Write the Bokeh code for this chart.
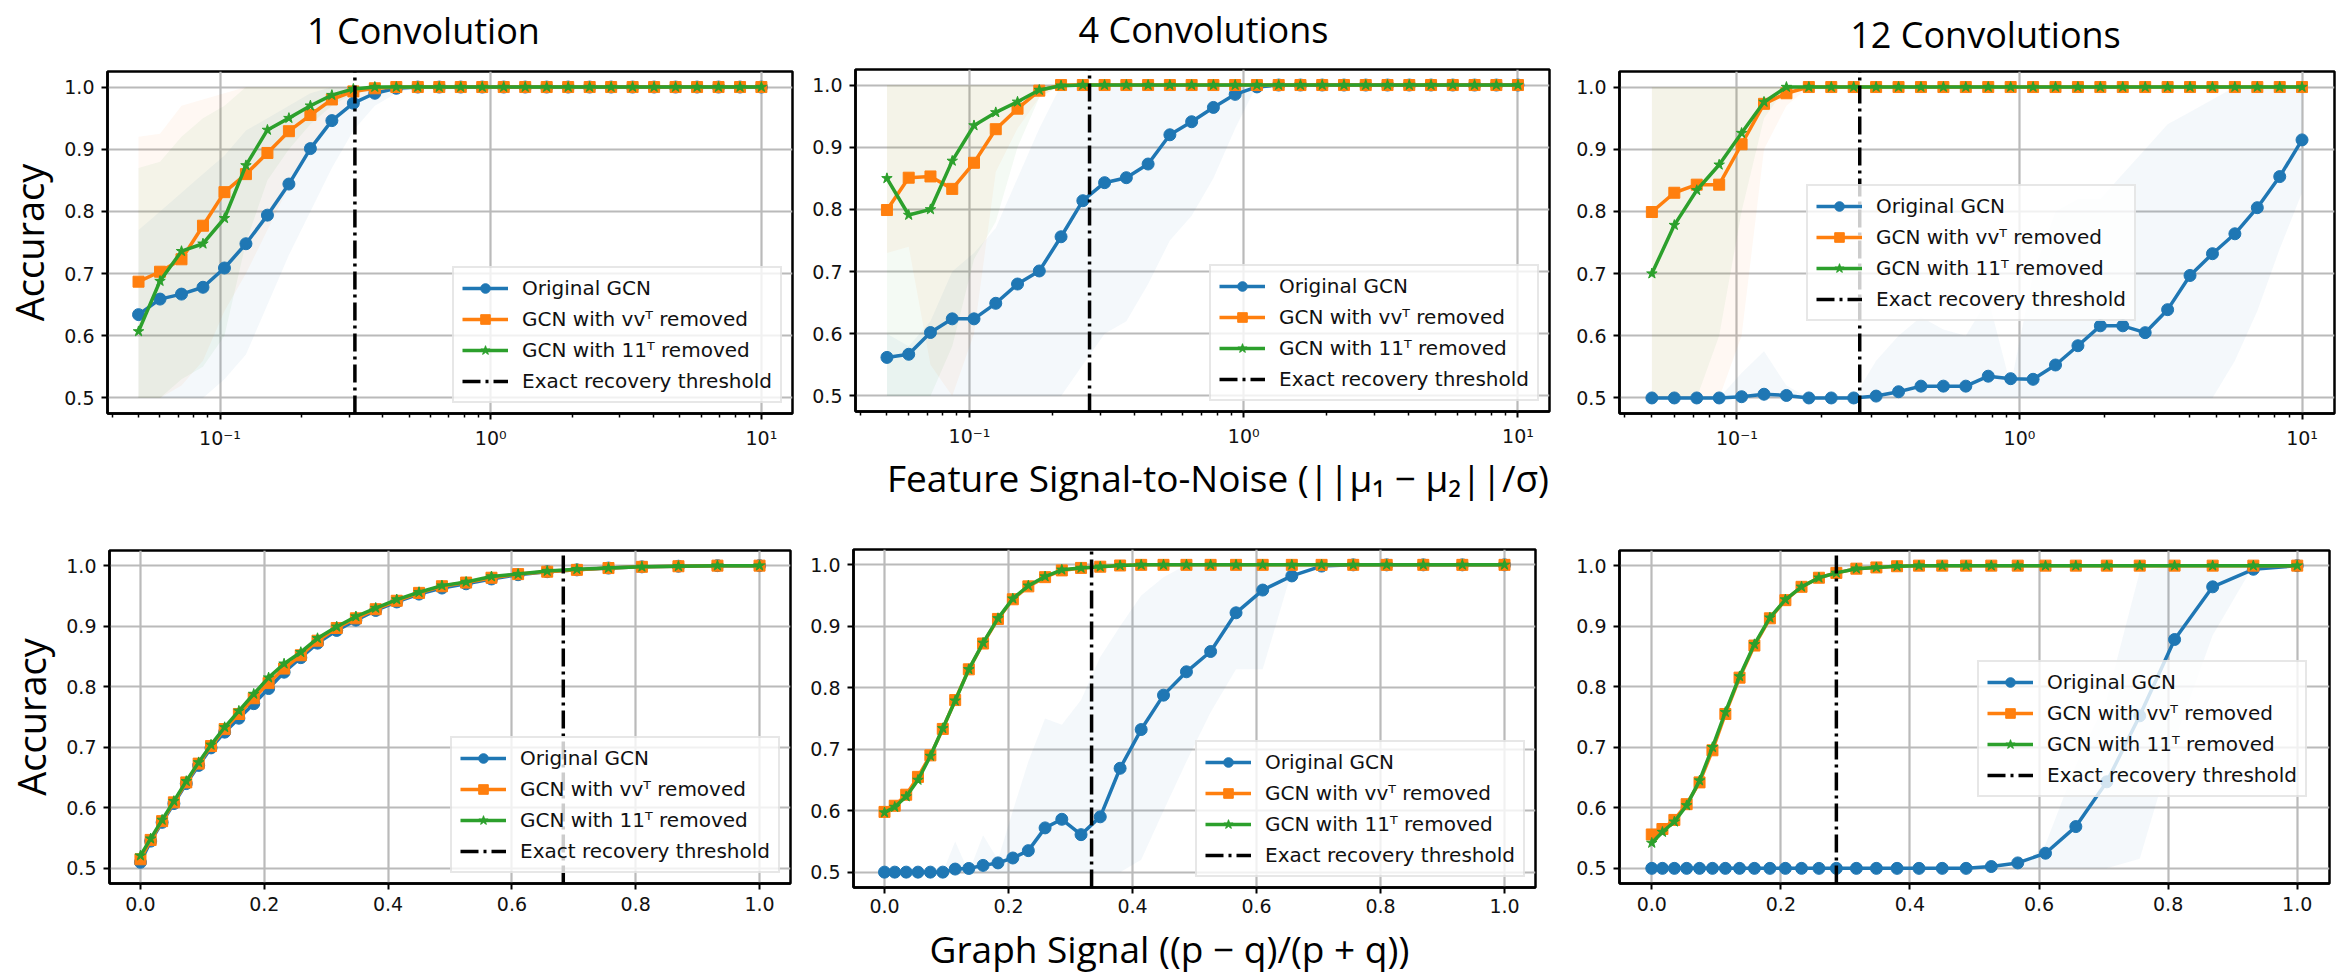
import math
from bokeh.plotting import figure
from bokeh.models import (Range1d, FixedTicker, NumeralTickFormatter, Legend,
                          LegendItem, ColumnDataSource)
from bokeh.layouts import row, column
from bokeh.embed import file_html
from bokeh.resources import INLINE
from bokeh.core.properties import value

# ---------------- data ----------------
x_snr = [0.05, 0.06003, 0.07206, 0.08651, 0.10386, 0.12468, 0.14968, 0.17969, 0.21572, 0.25897,
         0.31089, 0.37322, 0.44805, 0.53788, 0.64573, 0.77520, 0.93062, 1.11721, 1.34121, 1.61012,
         1.93295, 2.32050, 2.78576, 3.34431, 4.01484, 4.81982, 5.78619, 6.94632, 8.33906, 10.0]
x_graph = [0.0, 0.0165, 0.035, 0.054, 0.074, 0.094, 0.114, 0.136, 0.159, 0.183,
           0.207, 0.232, 0.259, 0.286, 0.317, 0.348, 0.38, 0.414, 0.45, 0.487,
           0.526, 0.567, 0.61, 0.657, 0.705, 0.756, 0.81, 0.869, 0.932, 1.0]

series_names = ["Original GCN", "GCN with vvᵀ removed", "GCN with 11ᵀ removed", "Exact recovery threshold"]
col_titles = ["1 Convolution", "4 Convolutions", "12 Convolutions"]
xlabel_feature = "Feature Signal-to-Noise (||μ₁ − μ₂||/σ)"
xlabel_graph = "Graph Signal ((p − q)/(p + q))"
ylabel = "Accuracy"
y_ticks = [0.5, 0.6, 0.7, 0.8, 0.9, 1.0]
x_log_ticks = [0.1, 1.0, 10.0]
x_log_labels = ["10⁻¹", "10⁰", "10¹"]
x_lin_ticks = [0.0, 0.2, 0.4, 0.6, 0.8, 1.0]

# top-left : 1 convolution, feature SNR
tl_blue = [0.634, 0.659, 0.667, 0.678, 0.709, 0.748, 0.794, 0.844, 0.901, 0.946, 0.974, 0.99, 0.998, 1.0, 1.0,
           1.0, 1.0, 1.0, 1.0, 1.0, 1.0, 1.0, 1.0, 1.0, 1.0, 1.0, 1.0, 1.0, 1.0, 1.0]
tl_orange = [0.687, 0.703, 0.723, 0.777, 0.831, 0.86, 0.894, 0.929, 0.955, 0.98, 0.993, 0.998, 1.0, 1.0, 1.0,
             1.0, 1.0, 1.0, 1.0, 1.0, 1.0, 1.0, 1.0, 1.0, 1.0, 1.0, 1.0, 1.0, 1.0, 1.0]
tl_green = [0.607, 0.688, 0.736, 0.748, 0.789, 0.874, 0.931, 0.95, 0.97, 0.987, 0.997, 1.0, 1.0, 1.0, 1.0,
            1.0, 1.0, 1.0, 1.0, 1.0, 1.0, 1.0, 1.0, 1.0, 1.0, 1.0, 1.0, 1.0, 1.0, 1.0]
tl_thr = 0.315
tl_blue_lo = [0.5, 0.5, 0.5, 0.5, 0.53, 0.57, 0.65, 0.73, 0.8, 0.87, 0.93, 0.97, 0.99, 1.0]
tl_blue_hi = [0.77, 0.8, 0.83, 0.86, 0.89, 0.93, 0.95, 0.97, 0.99, 1.0, 1.0, 1.0, 1.0, 1.0]
tl_orange_lo = [0.5, 0.5, 0.52, 0.56, 0.64, 0.7, 0.77, 0.84, 0.9, 0.95, 0.98, 0.99, 1.0, 1.0]
tl_orange_hi = [0.92, 0.925, 0.97, 0.98, 0.99, 1.0, 1.0, 1.0, 1.0, 1.0, 1.0, 1.0, 1.0, 1.0]
tl_green_lo = [0.5, 0.5, 0.53, 0.55, 0.6, 0.75, 0.85, 0.9, 0.94, 0.97, 0.99, 1.0, 1.0, 1.0]
tl_green_hi = [0.87, 0.88, 0.92, 0.95, 0.97, 1.0, 1.0, 1.0, 1.0, 1.0, 1.0, 1.0, 1.0, 1.0]

# top-middle : 4 convolutions
tm_blue = [0.562, 0.567, 0.602, 0.624, 0.624, 0.649, 0.68, 0.701, 0.756, 0.814, 0.843, 0.851, 0.873, 0.92, 0.941,
           0.964, 0.985, 0.997, 1.0, 1.0, 1.0, 1.0, 1.0, 1.0, 1.0, 1.0, 1.0, 1.0, 1.0, 1.0]
tm_orange = [0.799, 0.851, 0.853, 0.833, 0.875, 0.929, 0.962, 0.991, 1.0, 1.0, 1.0, 1.0, 1.0, 1.0, 1.0,
             1.0, 1.0, 1.0, 1.0, 1.0, 1.0, 1.0, 1.0, 1.0, 1.0, 1.0, 1.0, 1.0, 1.0, 1.0]
tm_green = [0.85, 0.791, 0.80, 0.878, 0.935, 0.956, 0.973, 0.992, 0.999, 1.0, 1.0, 1.0, 1.0, 1.0, 1.0,
            1.0, 1.0, 1.0, 1.0, 1.0, 1.0, 1.0, 1.0, 1.0, 1.0, 1.0, 1.0, 1.0, 1.0, 1.0]
tm_thr = 0.274
tm_blue_lo = [0.5, 0.5, 0.5, 0.5, 0.5, 0.5, 0.5, 0.5, 0.5, 0.55, 0.6, 0.62, 0.68, 0.75, 0.79, 0.85, 0.93, 1.0, 1.0]
tm_blue_hi = [0.6, 0.58, 0.62, 0.7, 0.73, 0.77, 0.85, 0.93, 1.0, 1.0, 1.0, 1.0, 1.0, 1.0, 1.0, 1.0, 1.0, 1.0, 1.0]
tm_orange_lo = [0.73, 0.74, 0.55, 0.5, 0.6, 0.86, 0.93, 0.98, 1.0]
tm_orange_hi = [1.0, 1.0, 1.0, 1.0, 1.0, 1.0, 1.0, 1.0, 1.0]
tm_green_lo = [0.5, 0.5, 0.5, 0.58, 0.72, 0.78, 0.9, 0.98, 1.0]
tm_green_hi = [1.0, 1.0, 1.0, 1.0, 1.0, 1.0, 1.0, 1.0, 1.0]

# top-right : 12 convolutions
tr_blue = [0.5, 0.5, 0.5, 0.5, 0.502, 0.506, 0.504, 0.5, 0.5, 0.5, 0.503, 0.51, 0.519, 0.519, 0.519,
           0.535, 0.531, 0.53, 0.553, 0.584, 0.616, 0.616, 0.605, 0.642, 0.697, 0.732, 0.764, 0.806, 0.856, 0.915]
tr_orange = [0.799, 0.83, 0.843, 0.843, 0.908, 0.973, 0.99, 1.0, 1.0, 1.0, 1.0, 1.0, 1.0, 1.0, 1.0,
             1.0, 1.0, 1.0, 1.0, 1.0, 1.0, 1.0, 1.0, 1.0, 1.0, 1.0, 1.0, 1.0, 1.0, 1.0]
tr_green = [0.7, 0.778, 0.834, 0.875, 0.926, 0.976, 1.0, 1.0, 1.0, 1.0, 1.0, 1.0, 1.0, 1.0, 1.0,
            1.0, 1.0, 1.0, 1.0, 1.0, 1.0, 1.0, 1.0, 1.0, 1.0, 1.0, 1.0, 1.0, 1.0, 1.0]
tr_thr = 0.272
tr_blue_lo = [0.5, 0.5, 0.5, 0.5, 0.5, 0.5, 0.5, 0.5, 0.5, 0.5, 0.5, 0.5, 0.5, 0.5, 0.5,
              0.5, 0.5, 0.5, 0.5, 0.5, 0.5, 0.5, 0.5, 0.5, 0.5, 0.5, 0.56, 0.64, 0.74, 0.83]
tr_blue_hi = [0.5, 0.5, 0.5, 0.5, 0.54, 0.575, 0.52, 0.5, 0.5, 0.5, 0.56, 0.6, 0.63, 0.61, 0.6,
              0.66, 0.52, 0.7, 0.8, 0.82, 0.82, 0.86, 0.9, 0.94, 0.96, 0.98, 1.0, 1.0, 1.0, 1.0]
tr_orange_lo = [0.5, 0.5, 0.5, 0.5, 0.6, 0.9, 0.97, 1.0]
tr_orange_hi = [1.0, 1.0, 1.0, 1.0, 1.0, 1.0, 1.0, 1.0]
tr_green_lo = [0.5, 0.5, 0.5, 0.6, 0.8, 0.95, 1.0, 1.0]
tr_green_hi = [1.0, 1.0, 1.0, 1.0, 1.0, 1.0, 1.0, 1.0]

# bottom-left : 1 convolution, graph signal
bl_blue = [0.51, 0.545, 0.576, 0.607, 0.64, 0.67, 0.699, 0.725, 0.748, 0.772, 0.797, 0.824, 0.848, 0.872, 0.893,
           0.91, 0.926, 0.94, 0.953, 0.963, 0.97, 0.978, 0.985, 0.99, 0.993, 0.996, 0.998, 0.999, 1.0, 1.0]
bl_orange = [0.515, 0.547, 0.578, 0.609, 0.642, 0.673, 0.702, 0.73, 0.755, 0.781, 0.806, 0.83, 0.852, 0.876, 0.897,
             0.913, 0.928, 0.942, 0.955, 0.966, 0.972, 0.98, 0.986, 0.99, 0.993, 0.996, 0.998, 0.999, 1.0, 1.0]
bl_green = [0.521, 0.549, 0.58, 0.611, 0.644, 0.675, 0.704, 0.733, 0.76, 0.788, 0.815, 0.838, 0.857, 0.88, 0.899,
            0.916, 0.93, 0.944, 0.956, 0.967, 0.973, 0.982, 0.986, 0.991, 0.994, 0.996, 0.998, 0.999, 1.0, 1.0]
bl_thr = 0.683

# bottom-middle : 4 convolutions
bm_blue = [0.5, 0.5, 0.5, 0.5, 0.5, 0.5, 0.505, 0.506, 0.511, 0.515, 0.523, 0.535, 0.572, 0.586, 0.561,
           0.59, 0.669, 0.732, 0.788, 0.826, 0.859, 0.922, 0.959, 0.982, 0.998, 1.0, 1.0, 1.0, 1.0, 1.0]
bm_orange = [0.598, 0.608, 0.626, 0.655, 0.69, 0.733, 0.78, 0.83, 0.872, 0.912, 0.944, 0.965, 0.98, 0.991, 0.995,
             0.997, 0.999, 1.0, 1.0, 1.0, 1.0, 1.0, 1.0, 1.0, 1.0, 1.0, 1.0, 1.0, 1.0, 1.0]
bm_green = [0.597, 0.606, 0.623, 0.65, 0.689, 0.734, 0.779, 0.83, 0.873, 0.913, 0.945, 0.966, 0.981, 0.992, 0.995,
            0.997, 0.999, 1.0, 1.0, 1.0, 1.0, 1.0, 1.0, 1.0, 1.0, 1.0, 1.0, 1.0, 1.0, 1.0]
bm_thr = 0.334
bm_blue_lo = [0.5, 0.5, 0.5, 0.5, 0.5, 0.5, 0.5, 0.5, 0.5, 0.5, 0.5, 0.5, 0.5, 0.5, 0.5,
              0.5, 0.5, 0.52, 0.6, 0.68, 0.76, 0.83, 0.83, 0.99, 1.0, 1.0, 1.0, 1.0, 1.0, 1.0]
bm_blue_hi = [0.5, 0.5, 0.5, 0.5, 0.5, 0.5, 0.55, 0.5, 0.56, 0.52, 0.6, 0.68, 0.75, 0.74, 0.78,
              0.85, 0.9, 0.95, 0.98, 1.0, 1.0, 1.0, 1.0, 1.0, 1.0, 1.0, 1.0, 1.0, 1.0, 1.0]

# bottom-right : 12 convolutions
br_blue = [0.5, 0.5, 0.5, 0.5, 0.5, 0.5, 0.5, 0.5, 0.5, 0.5, 0.5, 0.5, 0.5, 0.5, 0.5,
           0.5, 0.5, 0.5, 0.5, 0.5, 0.503, 0.509, 0.525, 0.569, 0.643, 0.752, 0.878, 0.965, 0.994, 1.0]
br_orange = [0.556, 0.565, 0.58, 0.606, 0.642, 0.695, 0.755, 0.815, 0.868, 0.913, 0.943, 0.965, 0.98, 0.988, 0.995,
             0.997, 0.999, 1.0, 1.0, 1.0, 1.0, 1.0, 1.0, 1.0, 1.0, 1.0, 1.0, 1.0, 1.0, 1.0]
br_green = [0.542, 0.56, 0.577, 0.604, 0.645, 0.70, 0.758, 0.817, 0.87, 0.914, 0.944, 0.965, 0.98, 0.988, 0.995,
            0.997, 0.999, 1.0, 1.0, 1.0, 1.0, 1.0, 1.0, 1.0, 1.0, 1.0, 1.0, 1.0, 1.0, 1.0]
br_thr = 0.286
br_blue_lo = [0.5, 0.5, 0.5, 0.5, 0.5, 0.5, 0.5, 0.5, 0.5, 0.5, 0.5, 0.5, 0.5, 0.5, 0.5,
              0.5, 0.5, 0.5, 0.5, 0.5, 0.5, 0.5, 0.5, 0.5, 0.5, 0.516, 0.71, 0.885, 1.0, 1.0]
br_blue_hi = [0.5, 0.5, 0.5, 0.5, 0.5, 0.5, 0.5, 0.5, 0.5, 0.5, 0.5, 0.5, 0.5, 0.5, 0.5,
              0.5, 0.5, 0.5, 0.5, 0.5, 0.5, 0.5, 0.54, 0.67, 0.78, 0.99, 1.0, 1.0, 1.0, 1.0]

# ---------------- style ----------------
BLUE, ORANGE, GREEN = "#1f77b4", "#ff7f0e", "#2ca02c"
Y0, Y1 = 0.475, 1.025
LOGX = (0.0384, 13.03)
LINX = (-0.05, 1.05)
MINOR_LOG = [0.04, 0.05, 0.06, 0.07, 0.08, 0.09, 0.2, 0.3, 0.4, 0.5, 0.6, 0.7, 0.8, 0.9,
             2, 3, 4, 5, 6, 7, 8, 9]
DASHDOT = "18 5 3 5"


def panel(xs, blue, orange, green, thr, bands, log, geo, legend_loc, show_ylabel=False, xstandoff=7):
    w, h, L, R, T, B = geo
    xr = LOGX if log else LINX
    p = figure(width=w, height=h, x_axis_type="log" if log else "linear",
               x_range=Range1d(*xr), y_range=Range1d(Y0, Y1),
               output_backend="svg", toolbar_location=None,
               min_border_left=L, min_border_right=R, min_border_top=T, min_border_bottom=B)
    p.background_fill_color = "white"
    p.border_fill_color = "white"
    p.outline_line_color = "black"
    p.outline_line_width = 2.5
    p.outline_line_alpha = 1.0

    if log:
        xt = FixedTicker(ticks=x_log_ticks, minor_ticks=MINOR_LOG)
        p.xaxis.ticker = xt
        p.xaxis.major_label_overrides = {t: s for t, s in zip(x_log_ticks, x_log_labels)}
    else:
        xt = FixedTicker(ticks=x_lin_ticks)
        p.xaxis.ticker = xt
        p.xaxis.formatter = NumeralTickFormatter(format="0.0")
    yt = FixedTicker(ticks=y_ticks)
    p.yaxis.ticker = yt
    p.yaxis.formatter = NumeralTickFormatter(format="0.0")
    p.xgrid.ticker = xt
    p.ygrid.ticker = yt
    for g in (p.xgrid, p.ygrid):
        g.grid_line_color = "#bababa"
        g.grid_line_width = 2.2
    for ax in (p.xaxis, p.yaxis):
        ax.axis_line_color = "black"
        ax.axis_line_width = 2.5
        ax.major_tick_out = 6
        ax.major_tick_in = 0
        ax.major_tick_line_width = 2
        ax.minor_tick_out = 4
        ax.minor_tick_in = 0
        ax.minor_tick_line_width = 1.5
        ax.major_label_text_font = "DejaVu Sans"
        ax.major_label_text_font_size = "19px"
        ax.major_label_text_color = "#111111"
        ax.major_label_standoff = 7
    p.xaxis.major_label_standoff = xstandoff
    if show_ylabel:
        p.yaxis.axis_label = ylabel
        p.yaxis.axis_label_text_font = "Open Sans"
        p.yaxis.axis_label_text_font_size = "38px"
        p.yaxis.axis_label_text_font_style = "normal"
        p.yaxis.axis_label_text_color = "black"
        p.yaxis.axis_label_standoff = 6

    for bx, lo, hi, c in bands:
        p.varea(x=bx, y1=lo, y2=hi, fill_color=c, fill_alpha=0.05)

    items = []
    specs = [(blue, BLUE, "circle", 12), (orange, ORANGE, "square", 11), (green, GREEN, "star", 11)]
    for (ys, c, mk, sz), name in zip(specs, series_names[:3]):
        src = ColumnDataSource(dict(x=xs, y=ys))
        ln = p.line("x", "y", source=src, line_color=c, line_width=3.5)
        sc = p.scatter("x", "y", source=src, marker=mk, size=sz, fill_color=c, line_color=c)
        items.append(LegendItem(label=name, renderers=[ln, sc]))

    # vertical threshold line spanning the full y range
    thr_line = p.line(x=[thr, thr], y=[Y0, Y1], line_color="black", line_width=3.5,
                      line_dash=DASHDOT)
    items.append(LegendItem(label=series_names[3], renderers=[thr_line]))

    leg = Legend(items=items, location=legend_loc)
    leg.label_text_font = "DejaVu Sans"
    leg.label_text_font_size = "20px"
    leg.label_text_color = "#111111"
    leg.glyph_width = 46
    leg.glyph_height = 24
    leg.label_height = 24
    leg.label_standoff = 14
    leg.spacing = 7
    leg.padding = 8
    leg.margin = 10
    leg.border_line_color = "#d0d0d0"
    leg.border_line_width = 2
    leg.background_fill_alpha = 0.8
    p.add_layout(leg)
    return p


def text_strip(x0, x1, y0, y1, xs, ys, texts, size):
    """A bare figure whose frame covers the strip; coordinates are page pixels."""
    f = figure(width=x1 - x0, height=y1 - y0, x_range=Range1d(x0, x1), y_range=Range1d(y1, y0),
               output_backend="svg", toolbar_location=None, min_border=0,
               x_axis_location=None, y_axis_location=None)
    f.outline_line_color = None
    f.grid.visible = False
    f.background_fill_color = "white"
    f.border_fill_color = "white"
    f.text(x=xs, y=ys, text=texts, text_align="center", text_baseline="alphabetic",
           text_font=value("Open Sans"), text_font_size=value(size), text_color="black")
    return f


HEAD = 60
header = text_strip(0, 2348, 0, HEAD, [423, 1203, 1985], [30, 29, 34], col_titles, "36px")
band = text_strip(804, 1566, 449, 520, [1202], [477], [xlabel_feature], "37px")
footer = text_strip(804, 1566, 921, 973, [1157], [948], [xlabel_graph], "37px")

# geometry: width, height, borderL, borderR, borderT, borderB
tl = panel(x_snr, tl_blue, tl_orange, tl_green, tl_thr,
           [(x_snr[:14], tl_blue_lo, tl_blue_hi, BLUE), (x_snr[:14], tl_orange_lo, tl_orange_hi, ORANGE),
            (x_snr[:14], tl_green_lo, tl_green_hi, GREEN)],
           True, (804, 460, 103, 12, 11, 107), "bottom_right", show_ylabel=True)
tm = panel(x_snr, tm_blue, tm_orange, tm_green, tm_thr,
           [(x_snr[:19], tm_blue_lo, tm_blue_hi, BLUE), (x_snr[:9], tm_orange_lo, tm_orange_hi, ORANGE),
            (x_snr[:9], tm_green_lo, tm_green_hi, GREEN)],
           True, (762, 389, 51, 17, 9, 36), "bottom_right")
tr = panel(x_snr, tr_blue, tr_orange, tr_green, tr_thr,
           [(x_snr, tr_blue_lo, tr_blue_hi, BLUE), (x_snr[:8], tr_orange_lo, tr_orange_hi, ORANGE),
            (x_snr[:8], tr_green_lo, tr_green_hi, GREEN)],
           True, (782, 460, 53, 14, 10, 95), (187, 92))
bl = panel(x_graph, bl_blue, bl_orange, bl_green, bl_thr, [],
           False, (804, 453, 109, 14, 24, 90), "bottom_right", show_ylabel=True)
bm = panel(x_graph, bm_blue, bm_orange, bm_green, bm_thr,
           [(x_graph, bm_blue_lo, bm_blue_hi, BLUE)],
           False, (762, 401, 49, 31, 29, 34), "bottom_right", xstandoff=5)
br = panel(x_graph, br_blue, br_orange, br_green, br_thr,
           [(x_graph, br_blue_lo, br_blue_hi, BLUE)],
           False, (782, 453, 53, 19, 30, 70), (358, 86))

layout = column(
    header,
    row(tl, column(tm, band, spacing=0), tr, spacing=0),
    row(bl, column(bm, footer, spacing=0), br, spacing=0),
    spacing=0,
)
open("out.html", "w").write(file_html(layout, INLINE))
